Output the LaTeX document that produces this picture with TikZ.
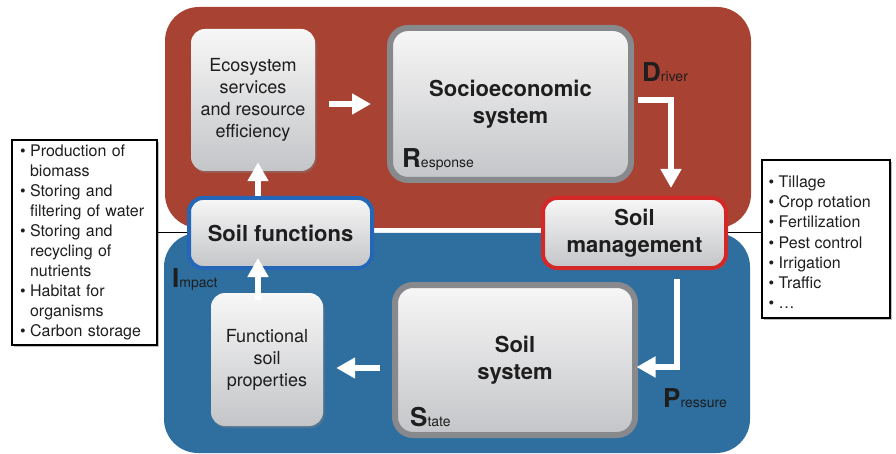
\documentclass[tikz,border=0pt]{standalone}
\usepackage{fontspec}
\setmainfont{TeX Gyre Heros}
\usetikzlibrary{shadows,arrows.meta}
\definecolor{redp}{RGB}{168,66,50}
\definecolor{bluep}{RGB}{46,111,160}
\definecolor{boxtop}{RGB}{247,247,247}
\definecolor{boxbot}{RGB}{196,197,200}
\definecolor{grayb}{RGB}{135,137,141}
\definecolor{redb}{RGB}{212,40,40}
\definecolor{blueb}{RGB}{36,102,184}
\definecolor{txt}{RGB}{30,30,30}
\newcommand{\bigletter}[1]{{\fontsize{26}{26}\selectfont\bfseries #1}}
\newcommand{\smallword}[1]{{\fontsize{14}{14}\selectfont #1}}
\begin{document}
\begin{tikzpicture}[x=1pt,y=-1pt,
  panel/.style={rounded corners=34pt, inner sep=0pt, draw=none},
  gbox/.style={rounded corners=14pt, top color=boxtop, bottom color=boxbot, inner sep=0pt,
    align=center, text=txt,
    drop shadow={opacity=0.45, shadow xshift=1.5pt, shadow yshift=-2pt}},
  regtext/.style={font=\fontsize{18}{22}\selectfont},
  boldtext/.style={font=\fontsize{22}{27}\selectfont\bfseries},
  thickgray/.style={draw=grayb, line width=6pt, rounded corners=18pt},
  lbox/.style={draw=black, line width=1.3pt, fill=white, inner ysep=0pt, text=txt,
    font=\fontsize{16}{20}\selectfont,
    drop shadow={opacity=0.5, shadow xshift=2pt, shadow yshift=-2pt}},
  ltext/.style={inner sep=0pt, text=txt, font=\fontsize{16}{20.3}\selectfont},
  conn/.style={draw=black, line width=1pt},
  warr/.style={draw=white, line width=6pt, -{Triangle[width=20pt,length=19pt]}},
  lbl/.style={anchor=base west, inner sep=0pt, text=txt}
]
\useasboundingbox (0,0) rectangle (896,454);
% panels
\node[panel, fill=redp, minimum width=586pt, minimum height=221pt] (rp) at (458,117.5) {};
\node[panel, fill=bluep, minimum width=586pt, minimum height=220pt] (bp) at (457,343) {};
% boxes
\node[gbox, regtext, minimum width=124pt, minimum height=142pt] (eco) at (253,100)
  {Ecosystem\\services\\and resource\\efficiency};
\node[gbox, thickgray, boldtext, minimum width=241pt, minimum height=152pt] (socio) at (510.5,104)
  {Socioeconomic\\system};
\node[gbox, draw=blueb, line width=4pt, boldtext, minimum width=183pt, minimum height=70pt] (fun) at (280.5,233)
  {Soil functions};
\node[gbox, draw=redb, line width=4pt, boldtext, minimum width=183pt, minimum height=70pt] (man) at (634.5,233)
  {Soil\\management};
\node[gbox, regtext, minimum width=112pt, minimum height=133pt] (func) at (267,359.5)
  {Functional\\soil\\properties};
\node[gbox, thickgray, boldtext, minimum width=240pt, minimum height=150pt] (soil) at (515,360)
  {Soil\\system};
% lists
\node[lbox, minimum height=205pt, text width=129pt, inner xsep=8pt] (lst) at (84.5,242.5)
{\noindent\begin{tabular}{@{}l@{\hspace{4.5pt}}l@{}}
\textbullet & Production of\\
 & biomass\\
\textbullet & Storing and\\
 & filtering of water\\
\textbullet & Storing and\\
 & recycling of\\
 & nutrients\\
\textbullet & Habitat for\\
 & organisms\\
\textbullet & Carbon storage
\end{tabular}};
\node[lbox, minimum width=128pt, minimum height=158pt] (rls) at (826,239) {};
\node[ltext, anchor=west] (rlt) at ([xshift=7pt,yshift=-5pt]rls.west)
{\begin{tabular}{@{}l@{\hspace{4.5pt}}l@{}}
\textbullet & Tillage\\
\textbullet & Crop rotation\\
\textbullet & Fertilization\\
\textbullet & Pest control\\
\textbullet & Irrigation\\
\textbullet & Traffic\\
\textbullet & \ldots
\end{tabular}};
% connectors
\draw[conn] (fun.west -| lst.east) -- (fun.west);
\draw[conn] (man.east) -- (man.east -| rls.west);
% arrows
\draw[warr, shorten <=14pt, shorten >=16pt] (eco.east |- socio.west) -- (socio.west);
\draw[warr] ([xshift=4pt,yshift=4pt]socio.east) -| ([xshift=36.5pt,yshift=8pt]man.north);
\draw[warr] ([xshift=5pt]eco.south |- fun.north) -- ([xshift=5pt,yshift=9pt]eco.south);
\draw[warr] ([xshift=-9pt,yshift=-7pt]func.north) -- ([xshift=-22.5pt,yshift=12pt]fun.south);
\draw[warr] ([xshift=-12pt,yshift=-8pt]soil.west) -- ([xshift=13pt,yshift=-8.5pt]func.east);
\draw[warr] ([xshift=42.5pt,yshift=-9pt]man.south) |- ([xshift=-1.5pt,yshift=-7pt]soil.east);
% DPSIR labels
\node[lbl] (dl) at (642,82) {\bigletter{D}\smallword{river}};
\node[lbl] (rl) at (402,168) {\bigletter{R}\smallword{esponse}};
\node[lbl] (il) at (172,287) {\bigletter{I}\smallword{mpact}};
\node[lbl] (pl) at (663,407) {\bigletter{P}\smallword{ressure}};
\node[lbl] (sl) at (410,426) {\bigletter{S}\smallword{tate}};
\end{tikzpicture}
\end{document}
